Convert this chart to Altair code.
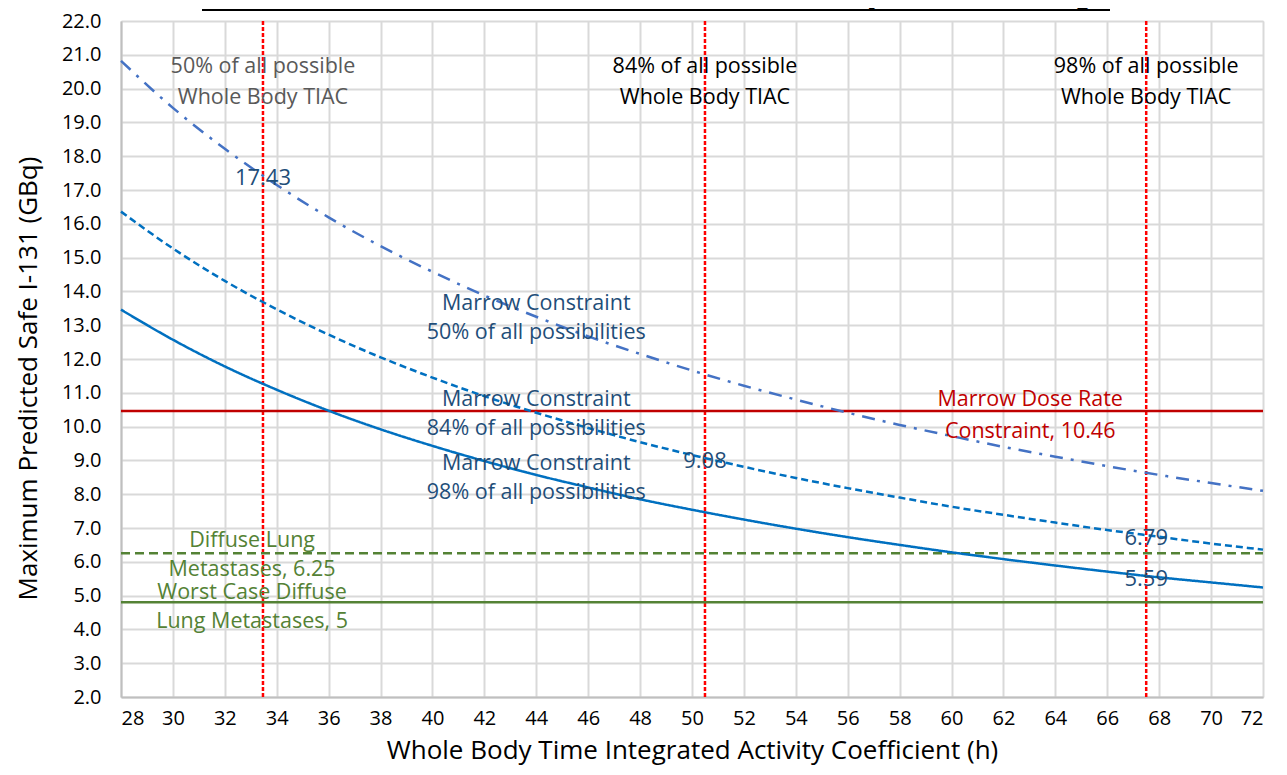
import altair as alt
import pandas as pd

# ---- data ----
x_vals = [28, 30, 32, 34, 36, 38, 40, 42, 44, 46, 48, 50, 52, 54, 56, 58, 60, 62, 64, 66, 68, 70, 72]
marrow_98 = [13.46, 12.57, 11.78, 11.09, 10.47, 9.92, 9.43, 8.98, 8.57, 8.20, 7.85, 7.54,
             7.25, 6.98, 6.73, 6.50, 6.28, 6.08, 5.89, 5.71, 5.54, 5.39, 5.24]
marrow_84 = [16.36, 15.27, 14.31, 13.47, 12.72, 12.05, 11.45, 10.90, 10.41, 9.96, 9.54, 9.16,
             8.81, 8.48, 8.18, 7.90, 7.63, 7.39, 7.16, 6.94, 6.74, 6.54, 6.36]
marrow_50 = [20.82, 19.43, 18.22, 17.15, 16.19, 15.34, 14.58, 13.88, 13.25, 12.67, 12.15, 11.66,
             11.21, 10.80, 10.41, 10.05, 9.72, 9.40, 9.11, 8.83, 8.57, 8.33, 8.10]

x_ticks = [28, 30, 32, 34, 36, 38, 40, 42, 44, 46, 48, 50, 52, 54, 56, 58, 60, 62, 64, 66, 68, 70, 72]
y_ticks = [2, 3, 4, 5, 6, 7, 8, 9, 10, 11, 12, 13, 14, 15, 16, 17, 18, 19, 20, 21, 22]

tiac_x = [33.47, 50.5, 67.5]
tiac_labels = ["50% of all possible\nWhole Body TIAC", "84% of all possible\nWhole Body TIAC",
               "98% of all possible\nWhole Body TIAC"]

point_x = [33.47, 50.5, 67.5, 67.5]
point_y = [17.43, 9.08, 6.79, 5.59]
point_labels = ["17.43", "9.08", "6.79", "5.59"]

marrow_rate = 10.46
lung_diffuse = 6.25
lung_worst = 4.8

marrow_text = ["Marrow Constraint\n50% of all possibilities",
               "Marrow Constraint\n84% of all possibilities",
               "Marrow Constraint\n98% of all possibilities"]
marrow_text_x = [44.0, 44.0, 44.0]
marrow_text_y = [13.64, 10.80, 8.88]

title_text = "First Strike Maximum Predicted Safe I-131 Constrained by Marrow and Lung"

FONT = "Open Sans"
ANN = 21.5
W, H = 1142, 676

xs = alt.Scale(domain=[28, 72], nice=False, zero=False)
ys = alt.Scale(domain=[2, 22], nice=False, zero=False)

curves = pd.DataFrame({"x": x_vals * 3,
                       "y": marrow_98 + marrow_84 + marrow_50,
                       "s": ["98"] * len(x_vals) + ["84"] * len(x_vals) + ["50"] * len(x_vals)})

common = dict(ticks=False, labelFontSize=20, labelFont=FONT, labelColor="#000000",
              labelOverlap=False, labelSeparation=0, labelBound=False,
              grid=True, gridColor="#d9d9d9", gridWidth=2, domainColor="#bfbfbf", domainWidth=2,
              titleFont=FONT, titleFontSize=26, titleFontWeight="normal", titleColor="#000000")
xaxis = alt.Axis(values=x_ticks, format="d", labelPadding=11,
                 title="Whole Body Time Integrated Activity Coefficient (h)",
                 titleBaseline="bottom", titleY=66, titleX=W / 2, titleAlign="center", **common)
yaxis = alt.Axis(values=y_ticks, format=".1f", labelPadding=20, tickCount=21,
                 title="Maximum Predicted Safe I-131 (GBq)",
                 titleAngle=270, titleAlign="center", titleBaseline="middle",
                 titleX=-93, titleY=357, **common)

XN = lambda f: alt.X(f, scale=xs, axis=xaxis)
YN = lambda f: alt.Y(f, scale=ys, axis=yaxis)

base_axes = alt.Chart(pd.DataFrame({"x": [28], "y": [2]})).mark_point(opacity=0).encode(
    x=XN("x:Q"), y=YN("y:Q"))


def curve(series, color, dash):
    return alt.Chart(curves[curves.s == series]).mark_line(
        color=color, strokeWidth=2.5, strokeDash=dash, interpolate="monotone"
    ).encode(x=XN("x:Q"), y=YN("y:Q"))


c98 = curve("98", "#0070c0", [1, 0])
c84 = curve("84", "#0070c0", [7, 4])
c50 = curve("50", "#4472c4", [13, 8, 3, 8])


def hline(val, color, dash):
    return alt.Chart(pd.DataFrame({"y": [val]})).mark_rule(
        color=color, strokeWidth=2.5, strokeDash=dash
    ).encode(y=YN("y:Q"), x=alt.value(0), x2=alt.value(W))


r_marrow = hline(marrow_rate, "#c00000", [1, 0])
r_diffuse = hline(lung_diffuse, "#548235", [9, 5])
r_worst = hline(lung_worst, "#548235", [1, 0])

vlines = alt.Chart(pd.DataFrame({"x": tiac_x})).mark_rule(
    color="#ff0000", strokeWidth=2.5, strokeDash=[4, 2]
).encode(x=XN("x:Q"), y=alt.value(0), y2=alt.value(H))

tiac_df = pd.DataFrame({"x": tiac_x, "t": tiac_labels, "c": ["#595959", "#000000", "#000000"]})
tiac_txt = alt.Chart(tiac_df).mark_text(
    font=FONT, fontSize=ANN, lineBreak="\n", lineHeight=31, align="center", baseline="middle"
).encode(x=XN("x:Q"), y=alt.value(46), text="t:N", color=alt.Color("c:N", scale=None))

pt_df = pd.DataFrame({"x": point_x, "y": point_y, "t": point_labels})
pt_txt = alt.Chart(pt_df).mark_text(
    font=FONT, fontSize=22, color="#1f4e79", align="center", baseline="middle", dy=3
).encode(x=XN("x:Q"), y=YN("y:Q"), text="t:N")

mt_df = pd.DataFrame({"x": marrow_text_x, "y": marrow_text_y, "t": marrow_text})
mt_txt = alt.Chart(mt_df).mark_text(
    font=FONT, fontSize=ANN, color="#1f4e79", lineBreak="\n", lineHeight=29,
    align="center", baseline="middle"
).encode(x=XN("x:Q"), y=YN("y:Q"), text="t:N")

red_txt = alt.Chart(pd.DataFrame({"x": [63.03], "y": [10.80],
                                  "t": ["Marrow Dose Rate\nConstraint, 10.46"]})).mark_text(
    font=FONT, fontSize=ANN, color="#c00000", lineBreak="\n", lineHeight=32,
    align="center", baseline="middle"
).encode(x=XN("x:Q"), y=YN("y:Q"), text="t:N")

green_df = pd.DataFrame({"x": [33.05, 33.05], "y": [6.61, 5.07],
                         "t": ["Diffuse Lung\nMetastases, 6.25", "Worst Case Diffuse\nLung Metastases, 5"]})
green_txt = alt.Chart(green_df).mark_text(
    font=FONT, fontSize=ANN, color="#548235", lineBreak="\n", lineHeight=29,
    align="center", baseline="middle"
).encode(x=XN("x:Q"), y=YN("y:Q"), text="t:N")

title_mark = alt.Chart(pd.DataFrame({"t": [title_text]})).mark_text(
    font=FONT, fontSize=23, fontWeight="bold", color="#000000", align="center", baseline="bottom"
).encode(x=alt.value(535), y=alt.value(-12), text="t:N")
title_line = alt.Chart(pd.DataFrame({"a": [0]})).mark_rule(color="#000000", strokeWidth=2).encode(
    x=alt.value(81), x2=alt.value(989), y=alt.value(-11))

chart = alt.layer(
    base_axes, vlines, r_worst, r_diffuse, r_marrow, c98, c84, c50,
    tiac_txt, pt_txt, mt_txt, red_txt, green_txt, title_mark, title_line
).properties(
    width=W, height=H,
    autosize=alt.AutoSizeParams(type="none"),
    padding={"left": 113, "top": 13, "right": 16, "bottom": 70},
).configure_view(stroke=None).configure(background="white")

chart.save("out.html", embed_options={"renderer": "svg", "actions": False})
